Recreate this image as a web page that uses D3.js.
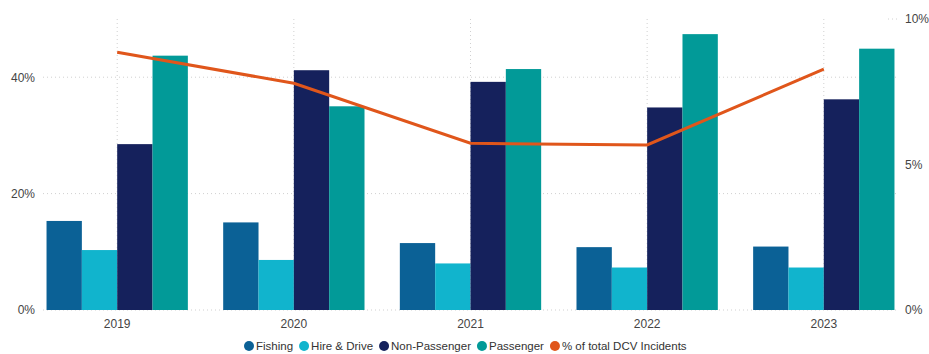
<!DOCTYPE html>
<html><head><meta charset="utf-8">
<script src="https://cdn.jsdelivr.net/npm/d3@7"></script>
<style>body{margin:0;background:#fff;}svg{display:block;font-family:"Liberation Sans",Arial,sans-serif;}</style>
</head><body><svg id="c" width="929" height="354"></svg>
<script>
const years = ["2019","2020","2021","2022","2023"];
const seriesNames = ["Fishing","Hire & Drive","Non-Passenger","Passenger"];
const fishing = [15.3, 15.05, 11.5, 10.8, 10.9];
const hireDrive = [10.3, 8.6, 8.0, 7.3, 7.3];
const nonPassenger = [28.5, 41.2, 39.2, 34.8, 36.2];
const passenger = [43.7, 35.0, 41.4, 47.4, 44.9];
const pctTotalDCV = [8.86, 7.79, 5.73, 5.67, 8.28];
const lineName = "% of total DCV Incidents";
const leftTicks = [0, 20, 40];
const rightTicks = [0, 5, 10];
const colors = ["#0b6196", "#11b4cd", "#15215c", "#029a98"];
const lineColor = "#e0561b";

const svg = d3.select("#c");
const L = 43, R = 898, T = 19, B = 310;
const x0 = d3.scaleBand().domain(years).range([L, R]).paddingInner(0.2).paddingOuter(0.02);
const x1 = d3.scaleBand().domain(seriesNames).range([0, x0.bandwidth()]);
const yL = d3.scaleLinear().domain([0, 50]).range([B, T]);
const yR = d3.scaleLinear().domain([0, 10]).range([B, T]);
const seriesVals = [fishing, hireDrive, nonPassenger, passenger];

// gridlines
const grid = svg.append("g").attr("stroke", "#d0d0d0").attr("stroke-dasharray", "1,3");
grid.selectAll("line.h").data(leftTicks).join("line")
  .attr("x1", L).attr("x2", R).attr("y1", d => yL(d)).attr("y2", d => yL(d));
grid.selectAll("line.v").data(years).join("line")
  .attr("x1", d => x0(d) + x0.bandwidth()/2).attr("x2", d => x0(d) + x0.bandwidth()/2)
  .attr("y1", T).attr("y2", B);
grid.append("line").attr("x1", 888).attr("x2", 898).attr("y1", yR(10)).attr("y2", yR(10));

// bars
const gBars = svg.append("g");
years.forEach((yr, i) => {
  seriesNames.forEach((s, j) => {
    gBars.append("rect")
      .attr("x", x0(yr) + x1(s)).attr("width", x1.bandwidth())
      .attr("y", yL(seriesVals[j][i])).attr("height", B - yL(seriesVals[j][i]))
      .attr("fill", colors[j]);
  });
});

// line
const line = d3.line().x((d, i) => x0(years[i]) + x0.bandwidth()/2).y(d => yR(d));
svg.append("path").datum(pctTotalDCV).attr("d", line)
  .attr("fill", "none").attr("stroke", lineColor).attr("stroke-width", 3);

// axes
const axL = svg.append("g").attr("transform", `translate(${L - 8},0)`)
  .call(d3.axisLeft(yL).tickValues(leftTicks).tickFormat(d => d + "%").tickSize(0));
const axR = svg.append("g").attr("transform", `translate(${R + 7},0)`)
  .call(d3.axisRight(yR).tickValues(rightTicks).tickFormat(d => d + "%").tickSize(0));
const axB = svg.append("g").attr("transform", `translate(0,${B + 6})`)
  .call(d3.axisBottom(x0).tickSize(0));
[axL, axR, axB].forEach(a => {
  a.select(".domain").remove();
  a.selectAll("text").attr("fill", "#444").style("font-size", "12px")
    .style("font-family", '"Liberation Sans", Arial, sans-serif');
});
axL.selectAll("text").attr("dx", 0).attr("x", 0);
axR.selectAll("text").attr("x", 0);

// legend
const legendItems = seriesNames.map((n, i) => ({name: n, color: colors[i]}))
  .concat([{name: lineName, color: lineColor}]);
const lg = svg.append("g").attr("transform", "translate(0,346)");
let cx = 244;
legendItems.forEach(it => {
  const g = lg.append("g").attr("transform", `translate(${cx},0)`);
  g.append("circle").attr("cx", 5).attr("cy", 0).attr("r", 5).attr("fill", it.color);
  const t = g.append("text").attr("x", 12).attr("y", 4).text(it.name)
    .attr("fill", "#333").style("font-size", "11.5px");
  cx += 12 + t.node().getComputedTextLength() + 6;
});
</script></body></html>
